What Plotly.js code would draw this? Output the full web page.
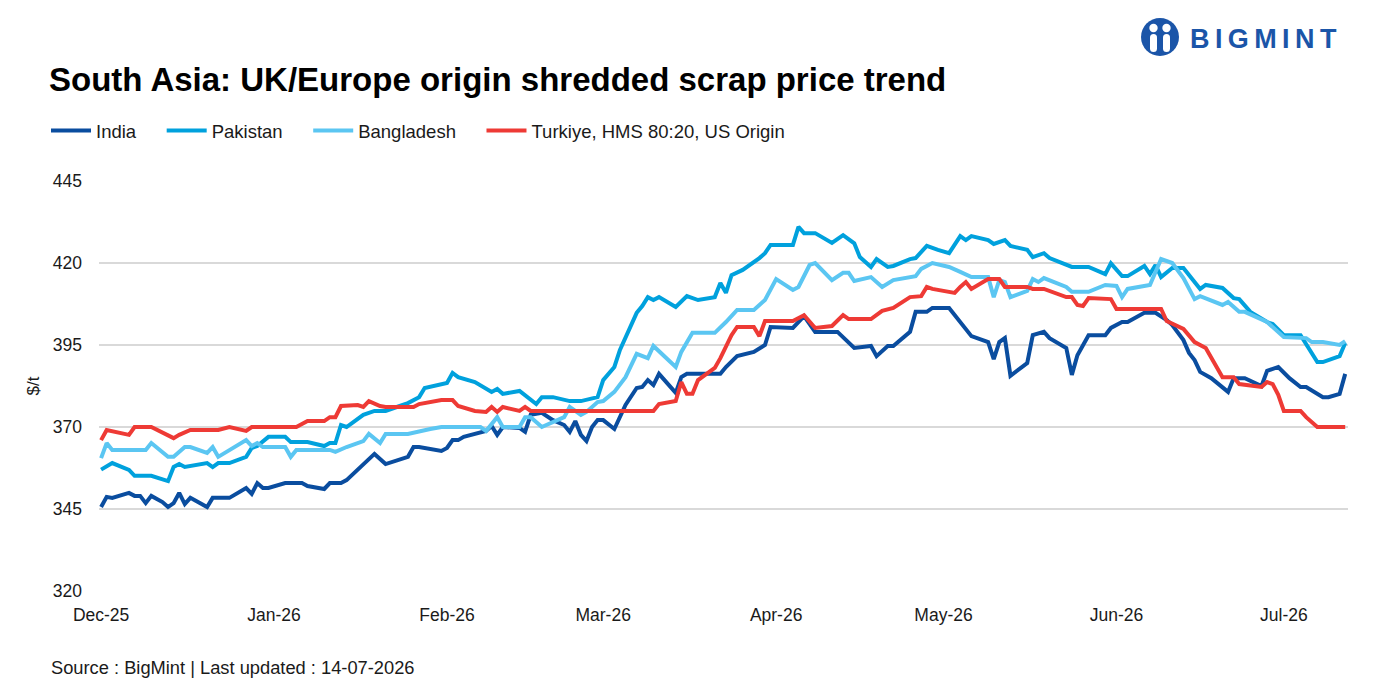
<!DOCTYPE html>
<html>
<head>
<meta charset="utf-8">
<script src="https://cdn.plot.ly/plotly-3.0.1.min.js"></script>
<style>html,body{margin:0;padding:0;background:#fff;}#chart{width:1384px;height:690px;}</style>
</head>
<body>
<div id="chart"></div>
<script>
// ---------- Data ----------
const seriesNames = ['India', 'Pakistan', 'Bangladesh', 'Turkiye, HMS 80:20, US Origin'];

const indiaDates = ['2025-12-01','2025-12-02','2025-12-03','2025-12-06','2025-12-07','2025-12-08','2025-12-09','2025-12-10','2025-12-12','2025-12-13','2025-12-14','2025-12-15','2025-12-16','2025-12-17','2025-12-20','2025-12-21','2025-12-24','2025-12-27','2025-12-28','2025-12-29','2025-12-30','2025-12-31','2026-01-03','2026-01-06','2026-01-07','2026-01-10','2026-01-11','2026-01-13','2026-01-14','2026-01-16','2026-01-19','2026-01-21','2026-01-25','2026-01-26','2026-01-27','2026-01-31','2026-02-01','2026-02-02','2026-02-03','2026-02-04','2026-02-06','2026-02-08','2026-02-09','2026-02-10','2026-02-11','2026-02-13','2026-02-14','2026-02-15','2026-02-16','2026-02-18','2026-02-20','2026-02-22','2026-02-23','2026-02-24','2026-02-25','2026-02-26','2026-02-27','2026-02-28','2026-03-01','2026-03-03','2026-03-05','2026-03-07','2026-03-08','2026-03-09','2026-03-10','2026-03-11','2026-03-14','2026-03-15','2026-03-16','2026-03-22','2026-03-23','2026-03-25','2026-03-28','2026-03-30','2026-03-31','2026-04-04','2026-04-06','2026-04-08','2026-04-12','2026-04-15','2026-04-18','2026-04-19','2026-04-21','2026-04-22','2026-04-25','2026-04-26','2026-04-28','2026-04-29','2026-05-02','2026-05-06','2026-05-07','2026-05-09','2026-05-10','2026-05-11','2026-05-12','2026-05-13','2026-05-16','2026-05-17','2026-05-19','2026-05-20','2026-05-23','2026-05-24','2026-05-25','2026-05-27','2026-05-30','2026-05-31','2026-06-02','2026-06-03','2026-06-06','2026-06-08','2026-06-10','2026-06-11','2026-06-13','2026-06-14','2026-06-15','2026-06-16','2026-06-18','2026-06-20','2026-06-21','2026-06-22','2026-06-24','2026-06-27','2026-06-28','2026-06-30','2026-07-02','2026-07-04','2026-07-05','2026-07-08','2026-07-09','2026-07-11','2026-07-12'];
const indiaValues = [345.6,348.7,348.4,349.9,349.0,349.0,346.8,349.0,347.1,345.6,346.8,349.9,346.5,348.4,345.6,348.4,348.4,351.4,349.6,352.9,351.4,351.4,352.9,352.9,352.0,351.1,352.9,352.9,353.8,356.9,361.8,358.7,360.9,363.9,363.9,362.7,363.6,366.0,366.0,367.0,367.9,368.8,370.3,367.6,370.0,370.0,369.7,368.5,373.7,374.3,372.1,370.6,368.5,371.8,367.6,365.7,370.0,372.1,372.1,369.4,376.7,381.9,382.2,384.3,382.8,386.2,380.4,385.2,386.2,386.2,388.3,391.6,392.9,395.0,400.5,400.2,403.8,399.0,399.0,394.1,394.7,391.6,394.7,394.7,399.0,405.1,405.1,406.3,406.3,397.7,397.1,395.9,390.7,395.9,397.1,385.6,389.5,398.0,399.0,397.1,394.1,385.9,391.9,398.0,398.0,400.2,402.0,402.0,404.8,404.8,402.6,401.1,396.5,392.6,390.4,386.8,384.9,382.2,380.7,384.9,384.9,382.5,387.1,388.3,384.9,382.2,382.2,379.1,379.1,380.1,386.2];

const pakistanDates = ['2025-12-01','2025-12-03','2025-12-06','2025-12-07','2025-12-10','2025-12-13','2025-12-14','2025-12-15','2025-12-16','2025-12-20','2025-12-21','2025-12-22','2025-12-24','2025-12-27','2025-12-28','2025-12-29','2025-12-31','2026-01-03','2026-01-04','2026-01-07','2026-01-10','2026-01-11','2026-01-12','2026-01-13','2026-01-14','2026-01-17','2026-01-19','2026-01-21','2026-01-23','2026-01-25','2026-01-27','2026-01-28','2026-02-01','2026-02-02','2026-02-03','2026-02-06','2026-02-09','2026-02-10','2026-02-11','2026-02-14','2026-02-17','2026-02-18','2026-02-20','2026-02-23','2026-02-25','2026-02-27','2026-02-28','2026-03-01','2026-03-03','2026-03-04','2026-03-07','2026-03-08','2026-03-09','2026-03-10','2026-03-11','2026-03-14','2026-03-16','2026-03-18','2026-03-21','2026-03-22','2026-03-23','2026-03-24','2026-03-26','2026-03-29','2026-03-30','2026-03-31','2026-04-04','2026-04-05','2026-04-06','2026-04-08','2026-04-11','2026-04-13','2026-04-15','2026-04-16','2026-04-18','2026-04-19','2026-04-21','2026-04-22','2026-04-25','2026-04-26','2026-04-28','2026-04-30','2026-05-02','2026-05-04','2026-05-05','2026-05-06','2026-05-09','2026-05-10','2026-05-12','2026-05-13','2026-05-16','2026-05-17','2026-05-19','2026-05-20','2026-05-24','2026-05-27','2026-05-30','2026-05-31','2026-06-02','2026-06-03','2026-06-06','2026-06-07','2026-06-08','2026-06-09','2026-06-11','2026-06-13','2026-06-16','2026-06-17','2026-06-20','2026-06-22','2026-06-23','2026-06-25','2026-06-28','2026-06-29','2026-07-01','2026-07-04','2026-07-07','2026-07-08','2026-07-11','2026-07-12'];
const pakistanValues = [357.0,359.0,356.9,355.1,355.1,353.5,357.8,358.7,357.8,359.0,357.8,359.0,359.0,360.9,363.6,364.2,367.0,367.0,365.4,365.4,364.2,365.1,365.1,370.6,370.0,373.7,374.9,374.9,376.1,377.3,379.1,381.9,383.4,386.5,385.2,383.7,380.7,381.6,380.1,381.0,377.0,379.1,379.1,377.9,377.9,378.8,379.1,384.3,388.3,393.5,404.8,406.9,409.6,408.7,409.6,406.6,409.9,408.7,409.6,413.9,410.9,416.3,417.9,421.5,423.0,425.5,425.5,431.0,429.1,429.1,426.1,428.5,426.0,421.8,418.8,421.2,418.8,419.1,421.2,421.5,425.2,424.0,423.0,428.2,427.0,428.2,427.0,425.8,427.0,425.2,424.0,421.8,423.0,421.5,418.8,418.8,416.6,419.9,416.0,416.0,419.1,416.6,419.4,415.7,418.5,418.5,412.1,413.3,412.4,409.3,409.0,405.1,402.0,401.4,398.0,398.0,389.8,389.8,391.6,395.6];

const bangladeshDates = ['2025-12-01','2025-12-02','2025-12-03','2025-12-09','2025-12-10','2025-12-13','2025-12-14','2025-12-16','2025-12-17','2025-12-20','2025-12-21','2025-12-22','2025-12-27','2025-12-28','2025-12-29','2025-12-30','2026-01-03','2026-01-04','2026-01-05','2026-01-11','2026-01-12','2026-01-14','2026-01-17','2026-01-18','2026-01-20','2026-01-21','2026-01-25','2026-01-27','2026-01-29','2026-01-31','2026-02-07','2026-02-08','2026-02-10','2026-02-11','2026-02-14','2026-02-15','2026-02-16','2026-02-18','2026-02-22','2026-02-23','2026-02-25','2026-02-26','2026-02-28','2026-03-01','2026-03-03','2026-03-05','2026-03-07','2026-03-09','2026-03-10','2026-03-14','2026-03-15','2026-03-17','2026-03-21','2026-03-23','2026-03-25','2026-03-28','2026-03-30','2026-04-01','2026-04-04','2026-04-05','2026-04-07','2026-04-08','2026-04-11','2026-04-13','2026-04-14','2026-04-15','2026-04-18','2026-04-20','2026-04-22','2026-04-26','2026-04-27','2026-04-29','2026-05-02','2026-05-04','2026-05-06','2026-05-09','2026-05-10','2026-05-11','2026-05-12','2026-05-13','2026-05-16','2026-05-17','2026-05-18','2026-05-19','2026-05-21','2026-05-23','2026-05-24','2026-05-27','2026-05-30','2026-06-01','2026-06-02','2026-06-03','2026-06-07','2026-06-09','2026-06-11','2026-06-13','2026-06-15','2026-06-16','2026-06-20','2026-06-21','2026-06-23','2026-06-24','2026-06-28','2026-07-01','2026-07-05','2026-07-06','2026-07-08','2026-07-11','2026-07-12'];
const bangladeshValues = [360.5,365.1,363.0,363.0,365.1,360.9,360.9,363.9,363.9,362.1,363.9,360.9,366.0,364.2,365.1,363.9,363.9,360.9,363.0,363.0,362.4,363.9,365.7,367.9,365.1,367.9,367.9,368.8,369.4,370.0,370.0,368.8,373.0,370.0,370.0,373.0,373.0,370.0,373.0,376.1,373.7,374.6,377.6,377.9,380.7,385.2,392.3,391.0,394.7,388.3,392.9,398.7,398.7,402.0,405.7,405.7,408.7,415.1,411.8,412.7,419.4,420.0,414.8,417.0,417.0,414.5,415.7,412.7,414.8,416.0,418.2,420.0,418.8,417.3,415.7,415.7,409.6,414.8,414.2,409.6,411.5,415.1,414.2,415.4,413.9,412.7,411.2,411.2,413.3,413.0,409.6,412.1,413.3,421.2,420.0,415.4,409.0,409.9,407.2,408.1,405.1,405.1,402.0,397.4,397.1,395.9,395.9,395.0,396.2];

const turkiyeDates = ['2025-12-01','2025-12-02','2025-12-06','2025-12-07','2025-12-10','2025-12-14','2025-12-15','2025-12-17','2025-12-22','2025-12-24','2025-12-27','2025-12-28','2026-01-05','2026-01-07','2026-01-10','2026-01-11','2026-01-12','2026-01-13','2026-01-16','2026-01-17','2026-01-18','2026-01-20','2026-01-21','2026-01-26','2026-01-27','2026-01-31','2026-02-02','2026-02-03','2026-02-06','2026-02-08','2026-02-09','2026-02-10','2026-02-11','2026-02-14','2026-02-15','2026-02-16','2026-03-10','2026-03-11','2026-03-14','2026-03-15','2026-03-16','2026-03-17','2026-03-18','2026-03-21','2026-03-22','2026-03-24','2026-03-25','2026-03-28','2026-03-29','2026-03-30','2026-04-04','2026-04-06','2026-04-08','2026-04-11','2026-04-13','2026-04-14','2026-04-18','2026-04-20','2026-04-22','2026-04-25','2026-04-27','2026-04-28','2026-04-29','2026-05-03','2026-05-04','2026-05-05','2026-05-06','2026-05-09','2026-05-11','2026-05-12','2026-05-16','2026-05-17','2026-05-19','2026-05-21','2026-05-23','2026-05-24','2026-05-25','2026-05-26','2026-05-27','2026-05-31','2026-06-01','2026-06-09','2026-06-10','2026-06-13','2026-06-14','2026-06-15','2026-06-17','2026-06-20','2026-06-22','2026-06-23','2026-06-27','2026-06-28','2026-06-29','2026-06-30','2026-07-01','2026-07-04','2026-07-05','2026-07-07','2026-07-12'];
const turkiyeValues = [366.0,369.1,367.6,370.0,370.0,366.6,367.6,369.1,369.1,370.0,368.8,370.0,370.0,371.8,371.8,373.0,373.0,376.4,376.7,376.1,377.9,376.4,376.1,376.1,377.0,378.2,378.2,376.4,374.9,374.6,376.1,374.6,376.1,374.9,376.1,374.9,374.9,377.0,377.9,383.7,380.1,380.1,384.3,388.0,391.0,398.0,400.5,400.5,397.7,402.3,402.3,404.1,400.2,400.8,404.1,402.9,402.9,405.4,406.3,409.6,409.9,412.7,412.1,410.9,412.7,414.2,412.1,415.1,415.1,412.7,412.7,412.1,412.1,410.9,409.6,409.6,407.2,406.9,409.3,409.0,406.0,406.0,402.3,399.9,398.0,395.9,394.1,385.2,385.2,383.1,382.2,383.7,383.1,379.8,374.9,374.9,373.0,370.0,370.0];

const seriesColors = ['#0a4d9f', '#00a1dd', '#5bc6f2', '#ee3a35'];
const yTickValues = [320, 345, 370, 395, 420, 445];

// ---------- Chart ----------
const FONT = 'Liberation Sans, Arial, sans-serif';
const dateSets = [indiaDates, pakistanDates, bangladeshDates, turkiyeDates];
const valueSets = [indiaValues, pakistanValues, bangladeshValues, turkiyeValues];
const legendPad = '\u00a0\u00a0\u00a0\u00a0';

const traces = seriesNames.map((name, i) => ({
  type: 'scatter',
  mode: 'lines',
  name: i < seriesNames.length - 1 ? name + legendPad : name,
  x: dateSets[i],
  y: valueSets[i],
  line: { color: seriesColors[i], width: 4, shape: 'linear' },
  hoverinfo: 'x+y+name'
}));

const W = 1384, H = 690;
const mL = 99, mR = 36, mT = 181, mB = 99;
const plotW = W - mL - mR, plotH = H - mT - mB;
const px2paperX = px => (px - mL) / plotW;
const px2paperY = py => 1 - (py - mT) / plotH;

const logoSvg = "<svg xmlns='http://www.w3.org/2000/svg' viewBox='0 0 40 40'>" +
  "<circle cx='20' cy='20' r='19' fill='#1b55a8'/>" +
  "<circle cx='13.5' cy='11' r='4.2' fill='white'/><circle cx='26.5' cy='11' r='4.2' fill='white'/>" +
  "<rect x='10' y='17' width='7' height='18' rx='3.5' fill='white'/><rect x='23' y='17' width='7' height='18' rx='3.5' fill='white'/>" +
  "<rect x='18.5' y='14' width='3' height='24' fill='#1b55a8'/></svg>";

const layout = {
  width: W, height: H,
  margin: { l: mL, r: mR, t: mT, b: mB, pad: 0 },
  paper_bgcolor: '#ffffff',
  plot_bgcolor: '#ffffff',
  font: { family: FONT, color: '#1a1a1a', size: 17 },
  title: {
    text: '<b>South Asia: UK/Europe origin shredded scrap price trend</b>',
    font: { family: FONT, size: 33, color: '#000000' },
    x: 49 / W, xanchor: 'left', xref: 'container',
    y: 1 - 79 / H, yanchor: 'middle', yref: 'container'
  },
  showlegend: true,
  legend: {
    orientation: 'h',
    x: px2paperX(46), xanchor: 'left',
    y: px2paperY(131), yanchor: 'middle',
    font: { family: FONT, size: 18.5, color: '#1a1a1a' },
    bgcolor: 'rgba(0,0,0,0)',
    itemwidth: 40,
    traceorder: 'normal'
  },
  xaxis: {
    type: 'date',
    range: ['2025-11-30 15:00', '2026-07-12 12:00'],
    tick0: '2025-12-01',
    dtick: 'M1',
    tickformat: '%b-%y',
    showgrid: false,
    zeroline: false,
    showline: false,
    ticks: '',
    ticklabelstandoff: 11,
    tickfont: { family: FONT, size: 17.5, color: '#1a1a1a' },
    fixedrange: true
  },
  yaxis: {
    range: [320, 445],
    tickvals: yTickValues,
    ticktext: yTickValues.map(String),
    showgrid: true,
    gridcolor: '#d9d9d9',
    gridwidth: 2,
    zeroline: false,
    showline: false,
    ticks: '',
    ticklabelstandoff: 16,
    tickfont: { family: FONT, size: 17.5, color: '#1a1a1a' },
    title: { text: '$/t', font: { family: FONT, size: 17, color: '#1a1a1a' }, standoff: 8 },
    fixedrange: true
  },
  annotations: [
    {
      text: 'Source : BigMint | Last updated : 14-07-2026',
      xref: 'paper', yref: 'paper',
      x: px2paperX(49), xanchor: 'left',
      y: px2paperY(667), yanchor: 'middle',
      showarrow: false,
      font: { family: FONT, size: 18.3, color: '#1a1a1a' }
    },
    {
      text: '<b>B\u2009I\u2009G\u2009M\u2009I\u2009N\u2009T</b>',
      xref: 'paper', yref: 'paper',
      x: px2paperX(1339), xanchor: 'right',
      y: px2paperY(39), yanchor: 'middle',
      showarrow: false,
      font: { family: FONT, size: 27, color: '#1b55a8' }
    }
  ],
  images: [{
    source: 'data:image/svg+xml;charset=utf-8,' + encodeURIComponent(logoSvg),
    xref: 'paper', yref: 'paper',
    x: px2paperX(1140), y: px2paperY(17),
    sizex: 40 / plotW, sizey: 40 / plotH,
    xanchor: 'left', yanchor: 'top',
    sizing: 'stretch', layer: 'above'
  }]
};

Plotly.newPlot('chart', traces, layout, { displayModeBar: false, staticPlot: true });
</script>
</body>
</html>
